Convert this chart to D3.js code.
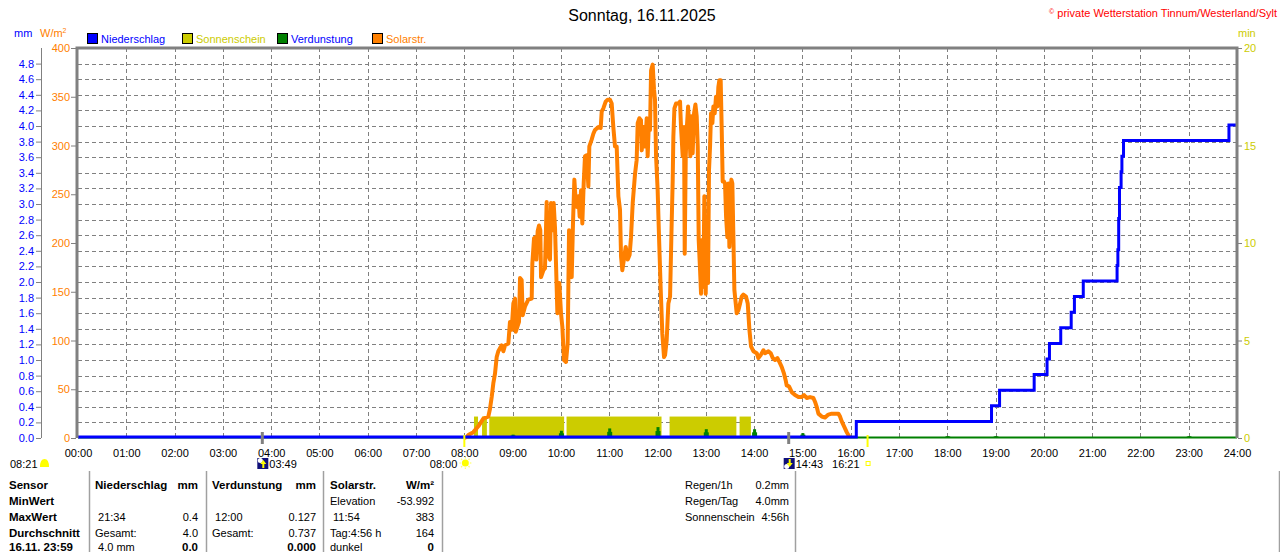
<!doctype html>
<html>
<head>
<meta charset="utf-8">
<script src="https://cdn.jsdelivr.net/npm/d3@7"></script>
<style>
  html, body { margin: 0; padding: 0; background: #fff; }
  svg { display: block; }
  svg text { white-space: pre; }
</style>
</head>
<body>
<script>
// ---- data ----

const hourLabels = [
  "00:00", "01:00", "02:00", "03:00", "04:00", "05:00", "06:00", "07:00",
  "08:00", "09:00", "10:00", "11:00", "12:00", "13:00", "14:00", "15:00",
  "16:00", "17:00", "18:00", "19:00", "20:00", "21:00", "22:00", "23:00", "24:00"
];
const mmTicks = [0.0, 0.2, 0.4, 0.6, 0.8, 1.0, 1.2, 1.4, 1.6, 1.8, 2.0, 2.2, 2.4,
  2.6, 2.8, 3.0, 3.2, 3.4, 3.6, 3.8, 4.0, 4.2, 4.4, 4.6, 4.8];
const wTicks = [0, 50, 100, 150, 200, 250, 300, 350, 400];
const minTicks = [0, 5, 10, 15, 20];

// Solarstrahlung: minutes since midnight, W/m²
const solarTimes = [
  480, 482.9, 485, 491.2, 497.4, 503.6, 509.8, 511.9, 514, 516, 518.1, 520.2, 522.2,
  526.4, 528.5, 530.5, 534.7, 536.7, 538.8, 540.9, 543, 543.8, 545.9, 547.9, 549.2,
  551.2, 552.5, 555.4, 559.5, 563.7, 564.5, 566.6, 568.6, 569.5, 571.1, 572.8, 574.4,
  575.3, 578.2, 580.2, 582.3, 583.5, 586.4, 587.7, 589.3, 591, 592.7, 593.9, 595.6,
  598, 600.1, 601.8, 603.8, 606.3, 608.4, 610.1, 611.7, 613.4, 615, 616.7, 618.3,
  620, 621.7, 623.3, 625, 626.6, 628.3, 629.9, 632, 634.1, 635.3, 638.2, 640.3,
  642.4, 646.5, 649.4, 650.7, 652.7, 655.6, 658.1, 661, 663.1, 665.1, 667.2, 669.3,
  671.4, 673.4, 674.7, 676.3, 678.4, 680.5, 683, 685.4, 687.1, 689.2, 692.1, 694.1,
  695.4, 697.5, 699.5, 700.4, 702.4, 704.5, 706.6, 707.8, 709.5, 710.7, 712, 714,
  715.7, 716.9, 718.2, 720.2, 721.9, 724, 726, 728.1, 729.4, 731.4, 733.5, 735.6,
  737.6, 738.9, 739.7, 741, 743, 745.9, 748, 749.2, 751.3, 753, 753.8, 755.1, 756.3,
  758, 759.6, 760.8, 762.1, 763.7, 765.4, 767.1, 768.7, 770, 771.2, 772.9, 774.1,
  775.3, 777, 778.2, 779.9, 781.1, 782.8, 784, 785.3, 786.5, 788.2, 789.4, 791.1,
  792.7, 794.4, 795.6, 796.9, 798.5, 799.8, 801, 802.7, 803.9, 805.2, 806.8, 808.1,
  809.3, 810.5, 811.8, 813, 814.3, 815.5, 817.2, 818.4, 820.5, 822.6, 824.6, 826.7,
  830, 832.1, 834.2, 836.2, 839.1, 843.3, 845.3, 848.2, 851.6, 853.6, 857.8, 860.7,
  863.2, 866, 869, 871.4, 874.3, 877.2, 879.3, 880.5, 883.4, 886.8, 890.9, 895.1,
  899.2, 902.1, 905.4, 909.5, 913.7, 915.8, 917.8, 919.9, 924.1, 928.2, 932.3, 936.5,
  940.6, 944.7, 946.8, 948.9, 951.8, 955.1, 958.4
];
const solarValues = [
  0, 1, 3, 6, 12, 20, 22, 30, 42, 56, 66, 83, 89,
  95, 89, 95, 97, 119, 111, 138, 143, 109, 114, 119, 164,
  162, 126, 135, 142, 143, 179, 205, 206, 183, 212, 218, 213,
  165, 172, 174, 242, 189, 183, 241, 213, 241, 215, 179, 128,
  159, 128, 114, 80, 78, 97, 213, 176, 165, 220, 265, 244,
  237, 248, 227, 254, 220, 261, 289, 290, 258, 299, 306, 312,
  316, 319, 318, 335, 338, 345, 347, 347, 343, 319, 299, 299,
  248, 234, 186, 172, 184, 196, 183, 188, 206, 241, 271, 285,
  323, 328, 326, 295, 319, 299, 328, 289, 328, 316, 377, 383,
  357, 347, 289, 254, 206, 152, 107, 83, 85, 100, 138, 145,
  220, 265, 309, 338, 343, 343, 345, 319, 289, 319, 189, 289, 316,
  340, 316, 289, 330, 292, 333, 342, 330, 299, 203, 172, 148,
  203, 155, 248, 148, 227, 159, 275, 299, 333, 323, 340, 333,
  350, 340, 360, 367, 367, 316, 263, 263, 261, 227, 206, 261,
  196, 230, 265, 261, 206, 152, 138, 128, 131, 138, 145, 147,
  145, 138, 111, 94, 89, 87, 82, 85, 90, 87, 89, 87,
  82, 80, 82, 78, 73, 66, 59, 54, 53, 47, 44, 42,
  42, 44, 41, 42, 41, 37, 32, 25, 22, 21, 24, 25,
  25, 25, 22, 17, 12, 6, 1
];

// Niederschlag, cumulative mm (step after)
const rainTimes = [0, 967, 1135, 1145, 1188, 1204, 1207, 1221, 1234, 1238, 1249,
  1291, 1292, 1293, 1294, 1296, 1297, 1299, 1430, 1440];
const rainTotals = [0.0, 0.2, 0.4, 0.6, 0.8, 1.0, 1.2, 1.4, 1.6, 1.8, 2.0,
  2.2, 2.4, 2.8, 3.2, 3.4, 3.6, 3.8, 4.0, 4.0];

// Verdunstung per hour, mm
const evapTimes = [60, 120, 540, 600, 660, 720, 780, 840, 900, 960, 1080, 1140, 1380];
const evapValues = [0.01, 0.01, 0.03, 0.08, 0.11, 0.127, 0.1, 0.1, 0.05, 0.01, 0.01, 0.01, 0.01];

// Sonnenschein periods, minutes, min/min
const sunStarts = [492, 502, 511, 607, 735, 822];
const sunEnds = [497, 508, 604, 725, 818, 836];
const sunValues = [1.1, 1.1, 1.1, 1.1, 1.1, 1.1];

// Astronomical events (minutes)
const moonRise = 229;   // 03:49
const moonSet = 883;    // 14:43
const sunRise = 480;    // 08:00
const sunSet = 981;     // 16:21

const legendNames = ["Niederschlag", "Sonnenschein", "Verdunstung", "Solarstr."];
const legendFills = ["#0000ff", "#cccc00", "#008000", "#ff8000"];
const legendText = ["#0000ff", "#cccc00", "#0000ff", "#ff8000"];

// table text
const sensorRows = ["Sensor", "MinWert", "MaxWert", "Durchschnitt", "16.11. 23:59"];
const rainCol = [["Niederschlag", "mm", true], ["", "", false], [" 21:34", "0.4", false],
  ["Gesamt:", "4.0", false], [" 4.0 mm", "0.0", true]];
const evapCol = [["Verdunstung", "mm", true], ["", "", false], [" 12:00", "0.127", false],
  ["Gesamt:", "0.737", false], ["", "0.000", true]];
const solarCol = [["Solarstr.", "W/m²", true], ["Elevation", "-53.992", false],
  [" 11:54", "383", false], ["Tag:4:56 h", "164", false], ["dunkel", "0", true]];
const infoLabels = ["Regen/1h", "Regen/Tag", "Sonnenschein"];
const infoValues = ["0.2mm", "4.0mm", "4:56h"];

// ---- layout ----
const W = 1280, H = 552;
const PL = 78, PR = 1237, PT = 48, PB = 438;
const FONT = '"Liberation Sans", Arial, Helvetica, sans-serif';
const GRID = "#808080";

const x = d3.scaleLinear().domain([0, 1440]).range([PL, PR]);
const yW = d3.scaleLinear().domain([0, 400]).range([PB, PT]);
const yMM = d3.scaleLinear().domain([0, 5]).range([PB, PT]);
const yMin = d3.scaleLinear().domain([0, 20]).range([PB, PT]);

const svg = d3.select("body").append("svg")
  .attr("width", W).attr("height", H)
  .style("font-family", FONT).style("font-size", "11px");

svg.append("rect").attr("width", W).attr("height", H).attr("fill", "#fff");

function txt(px, py, s, o = {}) {
  return svg.append("text")
    .attr("x", px).attr("y", py)
    .attr("fill", o.fill ?? "#000")
    .attr("font-size", o.size ?? 11)
    .attr("font-weight", o.bold ? "bold" : null)
    .attr("text-anchor", o.anchor ?? "start")
    .text(s);
}

// Title + copyright
txt(642, 21, "Sonntag, 16.11.2025", { size: 16, anchor: "middle" });
const copy = svg.append("text").attr("x", 1277).attr("y", 16.5)
  .attr("text-anchor", "end").attr("fill", "#ff0000").attr("font-size", 11);
copy.append("tspan").attr("font-size", 7).attr("dy", -3).text("©");
copy.append("tspan").attr("dy", 3).text(" private Wetterstation Tinnum/Westerland/Sylt");

// unit labels
txt(14, 37, "mm", { fill: "#0000ff" });
const wu = svg.append("text").attr("x", 40).attr("y", 37).attr("fill", "#ff8000").attr("font-size", 11);
wu.append("tspan").text("W/m");
wu.append("tspan").attr("font-size", 7).attr("dy", -4).text("2");
txt(1238, 37, "min", { fill: "#cccc00" });

// legend
const legX = [87, 182, 277, 372];
legendNames.forEach((n, i) => {
  svg.append("rect").attr("x", legX[i] + 0.5).attr("y", 33.5).attr("width", 10).attr("height", 10)
    .attr("fill", legendFills[i]).attr("stroke", "#000");
  txt(legX[i] + 14, 42.5, n, { fill: legendText[i] });
});

// grid
const grid = svg.append("g").attr("stroke", GRID).attr("stroke-dasharray", "4,3").attr("stroke-width", 1);
grid.selectAll("line.h").data(mmTicks.filter(d => d > 0)).join("line")
  .attr("x1", PL).attr("x2", PR)
  .attr("y1", d => Math.round(yMM(d)) + 0.5).attr("y2", d => Math.round(yMM(d)) + 0.5);
grid.selectAll("line.v").data(d3.range(1, 24)).join("line")
  .attr("y1", PT).attr("y2", PB)
  .attr("x1", d => Math.round(x(d * 60)) + 0.5).attr("x2", d => Math.round(x(d * 60)) + 0.5);

// sunshine bars
svg.append("g").selectAll("rect").data(sunStarts).join("rect")
  .attr("x", (d) => x(d))
  .attr("width", (d, i) => x(sunEnds[i]) - x(d))
  .attr("y", (d, i) => yMin(sunValues[i]))
  .attr("height", (d, i) => PB - yMin(sunValues[i]))
  .attr("fill", "#cccc00");

// evaporation baseline + spikes
svg.append("line").attr("x1", PL).attr("x2", PR).attr("y1", PB - 0.5).attr("y2", PB - 0.5)
  .attr("stroke", "#008000").attr("stroke-width", 2);
const ev = svg.append("g").attr("fill", "#008000");
ev.selectAll("rect.b").data(evapTimes).join("rect")
  .attr("x", d => x(d) - 2).attr("width", 5)
  .attr("y", (d, i) => yMM(evapValues[i] * 0.6) - 1)
  .attr("height", (d, i) => PB - yMM(evapValues[i] * 0.6) + 1);
ev.selectAll("rect.t").data(evapTimes).join("rect")
  .attr("x", d => x(d) - 1).attr("width", 3)
  .attr("y", (d, i) => yMM(evapValues[i]) - 1)
  .attr("height", (d, i) => PB - yMM(evapValues[i]) + 1);

// solar radiation
const solar = solarTimes.map((t, i) => [t, solarValues[i]]);
svg.append("path").datum(solar)
  .attr("fill", "none").attr("stroke", "#ff8000").attr("stroke-width", 4)
  .attr("stroke-linejoin", "round")
  .attr("d", d3.line().x(d => x(d[0])).y(d => yW(d[1])));

// precipitation (cumulative)
const rain = rainTimes.map((t, i) => [t, rainTotals[i]]);
svg.append("path").datum(rain)
  .attr("fill", "none").attr("stroke", "#0000ff").attr("stroke-width", 3)
  .attr("d", d3.line().curve(d3.curveStepAfter).x(d => x(d[0])).y(d => yMM(d[1]) - 1));

// frame
const fr = svg.append("g").attr("stroke", "#808080").attr("stroke-width", 3).attr("fill", "none");
fr.append("path").attr("d", `M${PL - 1},${PB}V${PT}H${PR}V${PB}`);

// left mm axis
const axMM = svg.append("g").attr("transform", "translate(41,0)")
  .call(d3.axisLeft(yMM).tickValues(mmTicks).tickFormat(d3.format(".1f"))
    .tickSize(5).tickSizeOuter(0).tickPadding(2));
axMM.select(".domain").attr("stroke", GRID).attr("d", `M0.5,${PT}V${PB}`);
axMM.selectAll(".tick line").attr("stroke", GRID);
axMM.selectAll("text").attr("fill", "#0000ff").attr("font-size", 11).attr("font-family", FONT);

// W/m² axis
const axW = svg.append("g").attr("transform", `translate(${PL - 2},0)`)
  .call(d3.axisLeft(yW).tickValues(wTicks).tickSize(5).tickPadding(1));
axW.select(".domain").remove();
axW.selectAll(".tick line").attr("stroke", GRID);
axW.selectAll("text").attr("fill", "#ff8000").attr("font-size", 11).attr("font-family", FONT);

// right min axis
const axMin = svg.append("g").attr("transform", `translate(${PR + 1},0)`)
  .call(d3.axisRight(yMin).tickValues(minTicks).tickSize(4).tickPadding(2));
axMin.select(".domain").remove();
axMin.selectAll(".tick line").attr("stroke", GRID);
axMin.selectAll("text").attr("fill", "#cccc00").attr("font-size", 11).attr("font-family", FONT);

// time axis labels
const axT = svg.append("g").attr("transform", `translate(0,${PB})`)
  .call(d3.axisBottom(x).tickValues(d3.range(0, 25).map(h => h * 60))
    .tickFormat((d, i) => hourLabels[i]).tickSize(0).tickPadding(11));
axT.select(".domain").remove();
axT.selectAll("text").attr("fill", "#000").attr("font-size", 11).attr("font-family", FONT);

// moon / sun markers on the axis
[moonRise, moonSet].forEach(t => {
  svg.append("line").attr("x1", x(t)).attr("x2", x(t)).attr("y1", PB - 6).attr("y2", PB + 6)
    .attr("stroke", "#808080").attr("stroke-width", 3);
});
[sunRise, sunSet].forEach(t => {
  svg.append("line").attr("x1", x(t)).attr("x2", x(t)).attr("y1", PB - 3).attr("y2", PB + 9)
    .attr("stroke", "#ffff00").attr("stroke-width", 2);
});

// icon row
const iy = 468;
txt(10, iy, "08:21");
svg.append("path").attr("d", "M40,467 Q40,459 44.5,459 Q49,459 49,467 Z").attr("fill", "#ffff00");

function moonIcon(t, up) {
  const mx = x(t) - 5;
  svg.append("rect").attr("x", mx).attr("y", 458).attr("width", 11).attr("height", 11).attr("fill", "#10107a");
  svg.append("circle").attr("cx", mx + 3).attr("cy", up ? 460.5 : 466.5).attr("r", 2.5).attr("fill", "#fff");
  const ax = mx + 6;
  const arrow = up
    ? `M${ax},460 L${ax + 3},464 L${ax + 1},464 L${ax + 1},468 L${ax - 1},468 L${ax - 1},464 L${ax - 3},464 Z`
    : `M${ax},467 L${ax + 3},463 L${ax + 1},463 L${ax + 1},459 L${ax - 1},459 L${ax - 1},463 L${ax - 3},463 Z`;
  svg.append("path").attr("d", arrow).attr("fill", "#ffff00");
}
moonIcon(moonRise, true);
txt(x(moonRise) + 7, iy, "03:49");
moonIcon(moonSet, false);
txt(x(moonSet) + 7, iy, "14:43");

const sx = x(sunRise) + 1, sy = 463;
svg.append("circle").attr("cx", sx).attr("cy", sy).attr("r", 3.5).attr("fill", "#ffff00");
d3.range(8).forEach(k => {
  const a = k * Math.PI / 4;
  svg.append("line")
    .attr("x1", sx + Math.cos(a) * 4.5).attr("y1", sy + Math.sin(a) * 4.5)
    .attr("x2", sx + Math.cos(a) * 6).attr("y2", sy + Math.sin(a) * 6)
    .attr("stroke", "#ffff66").attr("stroke-width", 1.2);
});
txt(x(sunRise) - 7, iy, "08:00", { anchor: "end" });
txt(x(sunSet) - 8, iy, "16:21", { anchor: "end" });
svg.append("rect").attr("x", x(sunSet) - 1.5).attr("y", 461.5).attr("width", 4).attr("height", 4)
  .attr("fill", "none").attr("stroke", "#ffff00");

// table separators
[89, 206, 323, 442, 795, 1279].forEach(sx2 => {
  svg.append("line").attr("x1", sx2 + 0.5).attr("x2", sx2 + 0.5).attr("y1", 471).attr("y2", H)
    .attr("stroke", "#a0a0a0").attr("stroke-width", 1.5);
});

// table (last row sits at the very bottom edge, as in the reference)
const rowY = [489, 505, 521, 537, 551];
sensorRows.forEach((s, i) => txt(9, rowY[i], s, { bold: true, size: 11.5 }));
function column(rows, lx, rx) {
  rows.forEach((r, i) => {
    const head = i === 0;
    if (r[0]) txt(lx, rowY[i], r[0], { bold: head, size: head ? 11.5 : 11 });
    if (r[1]) txt(rx, rowY[i], r[1], { bold: r[2], size: r[2] ? 11.5 : 11, anchor: "end" });
  });
}
column(rainCol, 95, 198);
column(evapCol, 212, 316);
column(solarCol, 330, 434);

infoLabels.forEach((s, i) => {
  txt(685, rowY[i], s);
  txt(789, rowY[i], infoValues[i], { anchor: "end" });
});
</script>
</body>
</html>
